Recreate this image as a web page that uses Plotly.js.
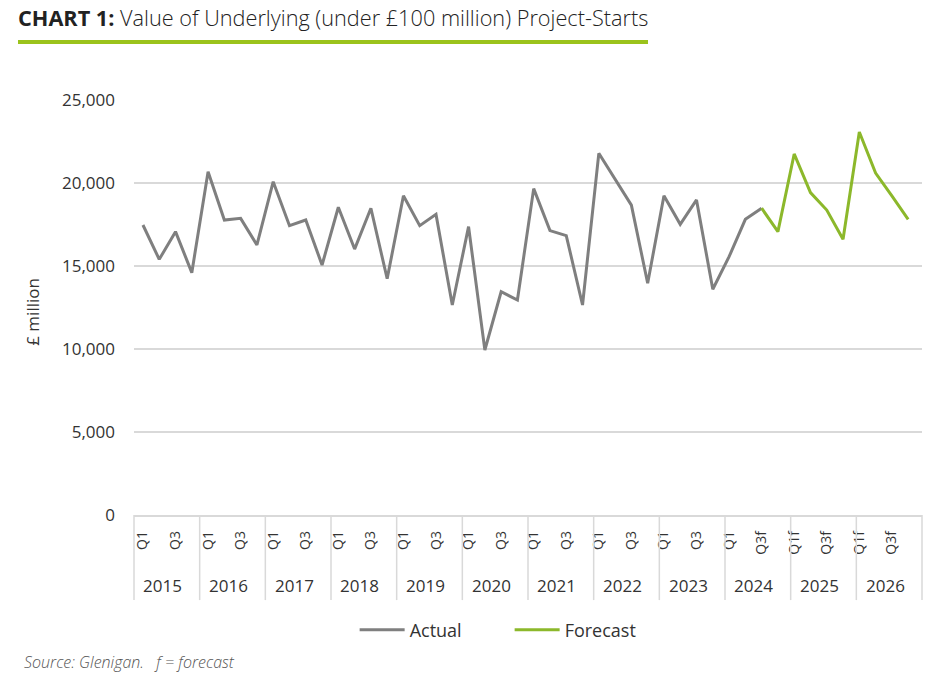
<!DOCTYPE html>
<html>
<head>
<meta charset="utf-8">
<script src="https://cdn.plot.ly/plotly-3.0.1.min.js"></script>
<style>
  html, body { margin: 0; padding: 0; background: #ffffff; }
  #chart { width: 936px; height: 682px; }
</style>
</head>
<body>
<div id="chart"></div>
<script>
// ---- Data ----
const years = ['2015','2016','2017','2018','2019','2020','2021','2022','2023','2024','2025','2026'];

const quarterLabels = [
  'Q1','Q2','Q3','Q4',   // 2015
  'Q1','Q2','Q3','Q4',   // 2016
  'Q1','Q2','Q3','Q4',   // 2017
  'Q1','Q2','Q3','Q4',   // 2018
  'Q1','Q2','Q3','Q4',   // 2019
  'Q1','Q2','Q3','Q4',   // 2020
  'Q1','Q2','Q3','Q4',   // 2021
  'Q1','Q2','Q3','Q4',   // 2022
  'Q1','Q2','Q3','Q4',   // 2023
  'Q1','Q2','Q3f','Q4f', // 2024
  'Q1f','Q2f','Q3f','Q4f', // 2025
  'Q1f','Q2f','Q3f','Q4f'  // 2026
];

// £ million, 2015 Q1 .. 2024 Q3
const actualValues = [
  17470, 15400, 17070, 14600,
  20680, 17770, 17870, 16270,
  20080, 17430, 17770, 15060,
  18540, 16020, 18480, 14230,
  19230, 17430, 18110, 12650,
  17370,  9940, 13450, 12950,
  19660, 17130, 16830, 12650,
  21790, 20200, 18670, 13960,
  19230, 17510, 18980, 13600,
  15560, 17810, 18480
];

// £ million, 2024 Q3 .. 2026 Q4
const forecastValues = [
  18480, 17070,
  21750, 19420, 18370, 16610,
  23070, 20600, 19220, 17810
];

const seriesNames = ['Actual', 'Forecast'];
const sourceNote = 'Source: Glenigan.   f = forecast';
const chartTitle = '<b>CHART 1:</b> Value of Underlying (under £100 million) Project-Starts';
const yTitle = '£ million';

// ---- Build traces ----
const idx = quarterLabels.map((_, i) => i);
const forecastStart = actualValues.length - 1;

const actualTrace = {
  x: idx.slice(0, actualValues.length),
  y: actualValues,
  name: seriesNames[0],
  type: 'scatter',
  mode: 'lines',
  line: { color: '#7f7f7f', width: 3 },
  hoverinfo: 'skip'
};
const forecastTrace = {
  x: idx.slice(forecastStart, forecastStart + forecastValues.length),
  y: forecastValues,
  name: seriesNames[1],
  type: 'scatter',
  mode: 'lines',
  line: { color: '#8cb82b', width: 3 },
  hoverinfo: 'skip'
};

const tickIdx = idx.filter(i => i % 4 === 0 || i % 4 === 2);
const tickTxt = tickIdx.map(i => quarterLabels[i]);

const FONT = 'Open Sans, Noto Sans, DejaVu Sans, sans-serif';
const boxBottom = -0.205;

const shapes = [];
for (let k = 0; k <= years.length; k++) {
  shapes.push({
    type: 'line', xref: 'paper', yref: 'paper',
    x0: k / years.length, x1: k / years.length, y0: 0, y1: boxBottom,
    line: { color: '#d9d9d9', width: 1.5 }
  });
}
// green rule under the title
shapes.push({
  type: 'line', xref: 'paper', yref: 'paper',
  x0: -0.1472, x1: 0.6523, y0: 1.14, y1: 1.14,
  line: { color: '#9bc31c', width: 4 }
});

const annotations = years.map((yr, k) => ({
  xref: 'paper', yref: 'paper',
  x: (k + 0.5) / years.length - 0.005, y: -0.171,
  text: yr, showarrow: false,
  xanchor: 'center', yanchor: 'middle',
  font: { family: FONT, size: 17, color: '#333333' }
}));
annotations.push({
  xref: 'paper', yref: 'paper', x: -0.128, y: 0.49,
  text: yTitle, textangle: -90, showarrow: false,
  xanchor: 'center', yanchor: 'middle',
  font: { family: FONT, size: 17, color: '#333333' }
});
annotations.push({
  xref: 'paper', yref: 'paper', x: -0.142, y: -0.354,
  text: '<i>' + sourceNote + '</i>', showarrow: false,
  xanchor: 'left', yanchor: 'middle',
  font: { family: FONT, size: 16, color: '#555555', weight: 300 }
});

const layout = {
  width: 936, height: 682,
  margin: { l: 134, r: 14, t: 100, b: 167 },
  paper_bgcolor: '#ffffff', plot_bgcolor: '#ffffff',
  font: { family: FONT, color: '#333333' },
  title: {
    text: chartTitle,
    xref: 'container', yref: 'container',
    x: 0.0192, xanchor: 'left', y: 0.973, yanchor: 'middle',
    font: { family: FONT, size: 21.7, color: '#222222', weight: 300 }
  },
  xaxis: {
    type: 'linear',
    range: [-0.55, 47.85],
    tickmode: 'array', tickvals: tickIdx, ticktext: tickTxt,
    tickangle: -90,
    tickfont: { family: FONT, size: 14, color: '#333333' },
    ticks: '', ticklabelstandoff: 9,
    showgrid: false, zeroline: false,
    showline: true, linecolor: '#d9d9d9', linewidth: 1.5,
    automargin: false, fixedrange: true
  },
  yaxis: {
    range: [0, 25000], dtick: 5000, tick0: 0,
    tickformat: ',',
    tickfont: { family: FONT, size: 17, color: '#333333' },
    ticks: '', ticklabelstandoff: 18,
    showgrid: true, gridcolor: '#d9d9d9', gridwidth: 1.5,
    zeroline: false, showline: false,
    automargin: false, fixedrange: true
  },
  showlegend: true,
  legend: {
    orientation: 'h',
    x: 0.28, y: -0.277, xanchor: 'left', yanchor: 'middle',
    font: { family: FONT, size: 18, color: '#333333' },
    itemwidth: 45,
    entrywidth: 95, entrywidthmode: 'pixels',
    bgcolor: 'rgba(0,0,0,0)'
  },
  shapes: shapes,
  annotations: annotations
};

Plotly.newPlot('chart', [actualTrace, forecastTrace], layout, { displayModeBar: false, staticPlot: true });
</script>
</body>
</html>
